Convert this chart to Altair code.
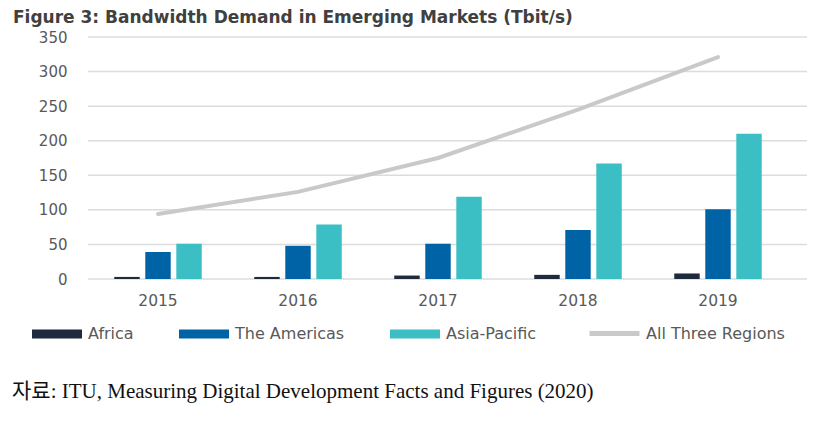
import altair as alt
import pandas as pd

years = ["2015", "2016", "2017", "2018", "2019"]
regions = ["Africa", "The Americas", "Asia-Pacific"]
africa = [3, 3, 5, 6, 8]
americas = [39, 48, 51, 71, 101]
asia_pacific = [51, 79, 119, 167, 210]
all_three = [94, 126, 175, 245, 321]
y_ticks = [0, 50, 100, 150, 200, 250, 300, 350]

region_colors = ["#1f2a3c", "#0063a6", "#3bbfc4"]
line_name = "All Three Regions"
line_color = "#c9c9c9"

title_text = "Figure 3: Bandwidth Demand in Emerging Markets (Tbit/s)"
source_text = "자료: ITU, Measuring Digital Development Facts and Figures (2020)"

rows = []
for name, vals in zip(regions, [africa, americas, asia_pacific]):
    for yr, v in zip(years, vals):
        rows.append({"year": yr, "series": name, "value": v})
bars_df = pd.DataFrame(rows)
line_df = pd.DataFrame({"year": years, "total": all_three, "series": [line_name] * len(years)})
grid_df = pd.DataFrame({"tick": y_ticks})

SANS = "DejaVu Sans"
PLOT_W = 719

x_scale = alt.Scale(range=[0, 700], paddingInner=0.375, paddingOuter=0.1875)
x_axis = alt.Axis(
    title=None, labelAngle=0, domain=False, ticks=False, grid=False,
    labelFont=SANS, labelFontSize=15.5, labelColor="#595959", labelPadding=14,
)
y_scale = alt.Scale(domain=[0, 350], nice=False)
y_axis = alt.Axis(
    title=None, values=y_ticks, domain=False, ticks=False, labelOverlap=False, grid=False,
    labelFont=SANS, labelFontSize=15, labelColor="#595959", labelPadding=21,
)

grid = alt.Chart(grid_df).mark_rule(color="#dcdcdc", strokeWidth=1.5).encode(
    y=alt.Y("tick:Q", scale=y_scale, axis=y_axis),
    x=alt.value(0),
    x2=alt.value(PLOT_W),
)

bars = alt.Chart(bars_df).mark_bar().encode(
    x=alt.X("year:N", sort=years, scale=x_scale, axis=x_axis),
    xOffset=alt.XOffset("series:N", sort=regions,
                        scale=alt.Scale(domain=regions, paddingInner=0.18, paddingOuter=0)),
    y=alt.Y("value:Q", scale=y_scale, axis=y_axis),
    color=alt.Color(
        "series:N",
        sort=regions,
        scale=alt.Scale(domain=regions, range=region_colors),
        legend=alt.Legend(
            title=None, orient="none", direction="horizontal",
            legendX=-56, legendY=272,
            symbolType="M-1,-0.18H1V0.18H-1Z", symbolSize=2500,
            symbolStrokeWidth=0, labelOffset=6, columnPadding=45,
            labelFont=SANS, labelFontSize=16, labelColor="#595959",
        ),
    ),
)

line = alt.Chart(line_df).mark_line(strokeWidth=4, strokeCap="round").encode(
    x=alt.X("year:N", sort=years, scale=x_scale, axis=x_axis),
    y=alt.Y("total:Q", scale=y_scale, axis=y_axis),
    stroke=alt.Stroke(
        "series:N",
        scale=alt.Scale(domain=[line_name], range=[line_color]),
        legend=alt.Legend(
            title=None, orient="none", direction="horizontal",
            legendX=499, legendY=269,
            symbolType="stroke", symbolSize=2500, symbolStrokeWidth=5,
            labelOffset=4,
            labelFont=SANS, labelFontSize=16, labelColor="#595959",
        ),
    ),
)

title = alt.Chart(pd.DataFrame({"t": [title_text]})).mark_text(
    align="left", baseline="alphabetic", font=SANS, fontSize=17, fontWeight="bold", color="#404040"
).encode(text="t:N", x=alt.value(-75), y=alt.value(-14))

source = alt.Chart(pd.DataFrame({"t": [source_text]})).mark_text(
    align="left", baseline="alphabetic", font="Liberation Serif, Noto Sans CJK KR, serif",
    fontSize=21, color="#111111"
).encode(text="t:N", x=alt.value(-76), y=alt.value(361))

chart = alt.layer(grid, bars, line, title, source).properties(
    width=PLOT_W, height=242,
    background="white",
    padding={"left": 80, "top": 29, "right": 9, "bottom": 138},
    autosize=alt.AutoSizeParams(type="none"),
).configure_view(strokeWidth=0, stroke="transparent")

chart.save("out.html", embed_options={"renderer": "svg", "actions": False})
